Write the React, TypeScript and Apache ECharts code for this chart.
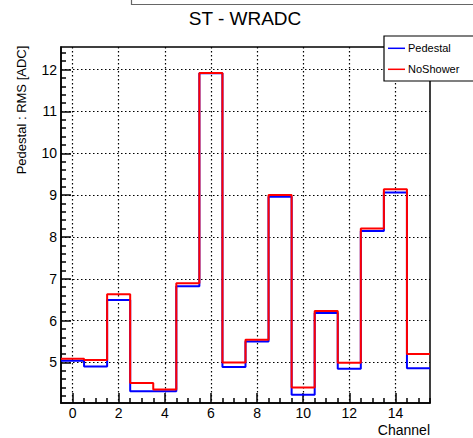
import React, { useEffect, useRef } from "react";
import * as echarts from "echarts";

const channels = [0, 1, 2, 3, 4, 5, 6, 7, 8, 9, 10, 11, 12, 13, 14, 15];
const pedestal = [5.04, 4.9, 6.49, 4.31, 4.31, 6.82, 11.91, 4.89, 5.5, 8.96, 4.23, 6.18, 4.85, 8.14, 9.06, 4.86];
const noShower = [5.09, 5.06, 6.63, 4.51, 4.35, 6.89, 11.92, 5.0, 5.54, 9.0, 4.4, 6.23, 4.99, 8.2, 9.14, 5.2];
const xTickLabels = [0, 2, 4, 6, 8, 10, 12, 14];
const yTickLabels = [5, 6, 7, 8, 9, 10, 11, 12];
const seriesNames = ["Pedestal", "NoShower"];
const seriesColors = ["#0000ff", "#ff0000"];
const titleText = "ST - WRADC";
const yTitle = "Pedestal : RMS [ADC]";
const xTitle = "Channel";

const X_MIN = -0.5;
const X_MAX = 15.5;
const Y_MIN = 4.03;
const Y_MAX = 12.54;

const FONT = "'Liberation Sans', Arial, Helvetica, sans-serif";

function histEdges(vals: number[]): number[][] {
  const out: number[][] = [];
  channels.forEach((c, i) => {
    out.push([c - 0.5, vals[i]]);
    out.push([c + 0.5, vals[i]]);
  });
  return out;
}

function minorTicks(lo: number, hi: number, step: number, majors: number[]): number[] {
  const out: number[] = [];
  const n = Math.round((hi - lo) / step);
  for (let k = 0; k <= n; k++) {
    const v = Math.round((lo + k * step) * 1000) / 1000;
    if (!majors.includes(v)) out.push(v);
  }
  return out;
}

export default function App() {
  const ref = useRef<HTMLDivElement>(null);
  useEffect(() => {
    if (!ref.current) return;
    const chart = echarts.init(ref.current, null, { renderer: "svg" });
    const xMinor = minorTicks(0, 15.5, 0.5, xTickLabels);
    const yMinor = minorTicks(4.2, 12.4, 0.2, yTickLabels);
    const tickLine = { color: "#000", width: 1.5 };
    const legendItems: any[] = [];
    seriesNames.forEach((name, i) => {
      const cy = 48.3 + i * 21;
      legendItems.push({
        type: "line",
        z: 16,
        shape: { x1: 388, y1: cy, x2: 405, y2: cy },
        style: { stroke: seriesColors[i], lineWidth: 1.5 },
      });
      legendItems.push({
        type: "text",
        z: 16,
        x: 408,
        y: cy,
        style: {
          text: name,
          fontSize: 11,
          fontFamily: FONT,
          fill: "#000",
          textAlign: "left",
          textVerticalAlign: "middle",
        },
      });
    });
    const option: any = {
      animation: false,
      backgroundColor: "#fff",
      textStyle: { fontFamily: FONT },
      grid: {
        left: 61,
        right: 43,
        top: 47,
        bottom: 35,
        show: true,
        borderColor: "#000",
        borderWidth: 1.5,
        backgroundColor: "transparent",
      },
      xAxis: [
        {
          type: "value",
          min: X_MIN,
          max: X_MAX,
          position: "bottom",
          axisLine: { show: true, onZero: false, lineStyle: { color: "#000", width: 1.5 } },
          axisTick: { show: true, inside: true, length: 10, lineStyle: tickLine, customValues: xTickLabels },
          axisLabel: { show: true, customValues: xTickLabels, color: "#000", fontSize: 14, margin: 3, fontFamily: FONT },
          splitLine: { show: true, lineStyle: { color: "#000", width: 1.2, type: [1.5, 2.5] } },
        },
        {
          type: "value",
          min: X_MIN,
          max: X_MAX,
          position: "bottom",
          axisLine: { show: false, onZero: false },
          axisTick: { show: true, inside: true, length: 5, lineStyle: tickLine, customValues: xMinor },
          axisLabel: { show: false },
          splitLine: { show: false },
        },
      ],
      yAxis: [
        {
          type: "value",
          min: Y_MIN,
          max: Y_MAX,
          position: "left",
          axisLine: { show: true, onZero: false, lineStyle: { color: "#000", width: 1.5 } },
          axisTick: { show: true, inside: true, length: 10, lineStyle: tickLine, customValues: yTickLabels },
          axisLabel: { show: true, customValues: yTickLabels, color: "#000", fontSize: 14, margin: 4, fontFamily: FONT },
          splitLine: { show: true, lineStyle: { color: "#000", width: 1.2, type: [1.5, 2.5] } },
        },
        {
          type: "value",
          min: Y_MIN,
          max: Y_MAX,
          position: "left",
          axisLine: { show: false, onZero: false },
          axisTick: { show: true, inside: true, length: 5, lineStyle: tickLine, customValues: yMinor },
          axisLabel: { show: false },
          splitLine: { show: false },
        },
      ],
      series: [
        {
          name: seriesNames[0],
          type: "line",
          xAxisIndex: 0,
          yAxisIndex: 0,
          data: histEdges(pedestal),
          symbol: "none",
          lineStyle: { color: seriesColors[0], width: 2 },
          itemStyle: { color: seriesColors[0] },
          z: 3,
        },
        {
          name: seriesNames[1],
          type: "line",
          xAxisIndex: 0,
          yAxisIndex: 0,
          data: histEdges(noShower),
          symbol: "none",
          lineStyle: { color: seriesColors[1], width: 2 },
          itemStyle: { color: seriesColors[1] },
          z: 4,
        },
      ],
      graphic: [
        {
          type: "rect",
          z: 15,
          shape: { x: 131.5, y: -20, width: 400, height: 24.5 },
          style: { fill: "#fff", stroke: "#666", lineWidth: 1.2 },
        },
        {
          type: "rect",
          z: 15,
          shape: { x: 384, y: 36, width: 120, height: 45 },
          style: { fill: "#fff", stroke: "#000", lineWidth: 1.2 },
        },
        ...legendItems,
        {
          type: "text",
          z: 16,
          x: 245,
          y: 18.5,
          style: {
            text: titleText,
            fontSize: 19,
            fontFamily: FONT,
            fill: "#000",
            textAlign: "center",
            textVerticalAlign: "middle",
          },
        },
        {
          type: "text",
          z: 16,
          x: 21,
          y: 110,
          rotation: Math.PI / 2,
          style: {
            text: yTitle,
            fontSize: 13,
            fontFamily: FONT,
            fill: "#000",
            textAlign: "center",
            textVerticalAlign: "middle",
          },
        },
        {
          type: "text",
          z: 16,
          x: 430,
          y: 430,
          style: {
            text: xTitle,
            fontSize: 14,
            fontFamily: FONT,
            fill: "#000",
            textAlign: "right",
            textVerticalAlign: "middle",
          },
        },
      ],
    };
    chart.setOption(option);
    return () => chart.dispose();
  }, []);
  return (
    <div
      ref={ref}
      style={{ position: "fixed", left: 0, top: 0, width: 473, height: 438, background: "#fff" }}
    />
  );
}
